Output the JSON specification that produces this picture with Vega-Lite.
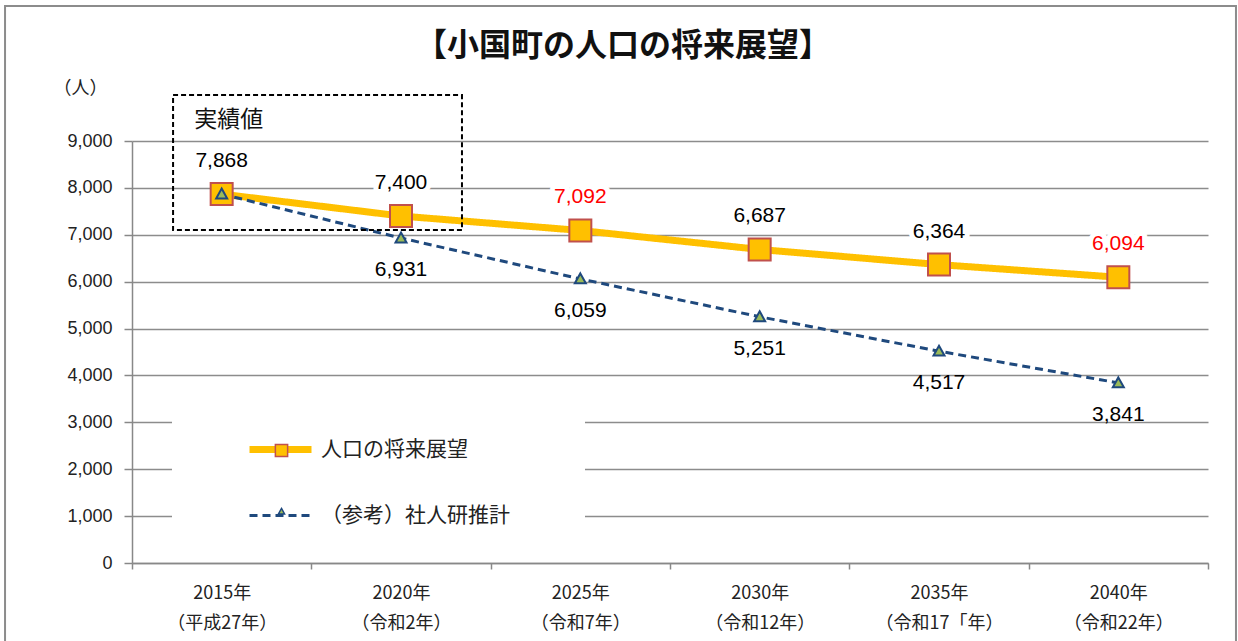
{
  "$schema": "https://vega.github.io/schema/vega-lite/v6.json",
  "width": 1076,
  "height": 422,
  "autosize": {"type": "none"},
  "padding": {"left": 132, "top": 141, "right": 30, "bottom": 78},
  "background": "white",
  "title": {
    "text": "【小国町の人口の将来展望】",
    "fontSize": 32,
    "fontWeight": "bold",
    "font": "Noto Sans CJK JP",
    "color": "#111111",
    "anchor": "middle",
    "dx": -47,
    "dy": 106,
    "offset": 16,
    "baseline": "bottom"
  },
  "config": {"view": {"stroke": null}},
  "datasets": {
    "pop": [
      {"year": "2015年\n（平成27年）", "series": "人口の将来展望", "mk": "人口の将来展望", "value": 7868},
      {"year": "2020年\n（令和2年）", "series": "人口の将来展望", "mk": "人口の将来展望", "value": 7400},
      {"year": "2025年\n（令和7年）", "series": "人口の将来展望", "mk": "人口の将来展望", "value": 7092},
      {"year": "2030年\n（令和12年）", "series": "人口の将来展望", "mk": "人口の将来展望", "value": 6687},
      {"year": "2035年\n（令和17「年）", "series": "人口の将来展望", "mk": "人口の将来展望", "value": 6364},
      {"year": "2040年\n（令和22年）", "series": "人口の将来展望", "mk": "人口の将来展望", "value": 6094},
      {"year": "2015年\n（平成27年）", "series": "（参考）社人研推計", "mk": "（参考）社人研推計", "value": 7868},
      {"year": "2020年\n（令和2年）", "series": "（参考）社人研推計", "mk": "（参考）社人研推計", "value": 6931},
      {"year": "2025年\n（令和7年）", "series": "（参考）社人研推計", "mk": "（参考）社人研推計", "value": 6059},
      {"year": "2030年\n（令和12年）", "series": "（参考）社人研推計", "mk": "（参考）社人研推計", "value": 5251},
      {"year": "2035年\n（令和17「年）", "series": "（参考）社人研推計", "mk": "（参考）社人研推計", "value": 4517},
      {"year": "2040年\n（令和22年）", "series": "（参考）社人研推計", "mk": "（参考）社人研推計", "value": 3841}
    ]
  },
  "layer": [
    {
      "data": {"values": [{}]},
      "mark": {"type": "rect", "fill": "white", "stroke": null},
      "encoding": {
        "x": {"datum": 0.223, "type": "quantitative", "scale": {"domain": [0, 6], "nice": false, "zero": false}, "axis": null},
        "x2": {"datum": 2.526},
        "y": {"datum": 3500, "type": "quantitative"},
        "y2": {"datum": 500}
      }
    },
    {
      "data": {"name": "pop"},
      "layer": [
        {
          "mark": {"type": "line", "strokeCap": "butt"},
          "encoding": {
            "x": {
              "field": "year", "type": "nominal",
              "scale": {"paddingInner": 0, "paddingOuter": 0},
              "axis": {
                "title": null, "labelAngle": 0,
                "labelExpr": "split(datum.label, '\\n')",
                "labelFont": "Noto Sans CJK JP", "labelFontSize": 18, "labelColor": "#222222",
                "labelLineHeight": 30, "labelPadding": 15,
                "tickSize": 6, "tickColor": "#888888", "tickWidth": 1.5, "tickBand": "extent",
                "domainColor": "#888888", "domainWidth": 1.5, "grid": false
              }
            },
            "y": {
              "field": "value", "type": "quantitative",
              "scale": {"domain": [0, 9000], "nice": false},
              "axis": {
                "values": [0, 1000, 2000, 3000, 4000, 5000, 6000, 7000, 8000, 9000],
                "labelExpr": "format(datum.value, ',')",
                "labelFont": "Liberation Sans", "labelFontSize": 18, "labelColor": "#222222", "labelPadding": 12,
                "tickSize": 8, "tickColor": "#888888", "tickWidth": 1.5,
                "domainColor": "#888888", "domainWidth": 1.5,
                "grid": true, "gridColor": "#8c8c8c", "gridWidth": 1.5,
                "title": "（人）", "titleAngle": 0, "titleX": -52, "titleY": -53,
                "titleAlign": "center", "titleBaseline": "middle",
                "titleFont": "Noto Sans CJK JP", "titleFontSize": 18, "titleFontWeight": "normal", "titleColor": "#222222"
              }
            },
            "color": {
              "field": "series", "type": "nominal",
              "scale": {"range": ["#FFC000", "#1F497D"]},
              "legend": {
                "orient": "none", "legendX": 40, "legendY": 271,
                "title": null, "padding": 3, "fillColor": "white",
                "symbolType": "stroke", "symbolSize": 3844, "symbolOffset": 71,
                "labelFont": "Noto Sans CJK JP", "labelFontSize": 21, "labelColor": "#222222",
                "labelLimit": 400, "labelOffset": 6, "rowPadding": 19
              }
            },
            "strokeWidth": {
              "field": "series", "type": "nominal",
              "scale": {"range": [7, 3]}
            },
            "strokeDash": {
              "field": "series", "type": "nominal",
              "scale": {"range": [[1, 0], [8, 5]]}
            }
          }
        },
        {
          "mark": {"type": "point", "filled": true, "size": 484, "strokeWidth": 2, "opacity": 1},
          "encoding": {
            "x": {"field": "year", "type": "nominal"},
            "y": {"field": "value", "type": "quantitative"},
            "shape": {
              "field": "mk", "type": "nominal",
              "scale": {"range": ["M-1,-1H1V1H-1Z", "M0,-0.5L0.5,0.4L-0.5,0.4Z"]},
              "legend": {
                "orient": "none", "legendX": 40, "legendY": 296,
                "title": null, "padding": 3,
                "symbolSize": 150, "symbolOffset": 96, "symbolStrokeWidth": 1.5,
                "labelFont": "Noto Sans CJK JP", "labelFontSize": 21, "labelOpacity": 0,
                "labelExpr": "''",
                "labelLimit": 400, "rowPadding": 39
              }
            },
            "fill": {"field": "mk", "type": "nominal", "scale": {"range": ["#FFC000", "#9BBB59"]}},
            "stroke": {"field": "mk", "type": "nominal", "scale": {"range": ["#C0504D", "#1F497D"]}}
          }
        },
        {
          "transform": [{"filter": "datum.series == '人口の将来展望'"}],
          "mark": {"type": "text", "dy": -33, "fontSize": 21, "font": "Liberation Sans", "fill": "white", "stroke": "white", "strokeWidth": 10, "strokeJoin": "round"},
          "encoding": {
            "x": {"field": "year", "type": "nominal"},
            "y": {"field": "value", "type": "quantitative"},
            "text": {"field": "value", "type": "quantitative", "format": ","}
          }
        },
        {
          "transform": [{"filter": "datum.series == '人口の将来展望'"}],
          "mark": {"type": "text", "dy": -33, "fontSize": 21, "font": "Liberation Sans"},
          "encoding": {
            "x": {"field": "year", "type": "nominal"},
            "y": {"field": "value", "type": "quantitative"},
            "text": {"field": "value", "type": "quantitative", "format": ","},
            "color": {"condition": {"test": "datum.value == 7092 || datum.value == 6094", "value": "#FF0000"}, "value": "#000000"}
          }
        },
        {
          "transform": [{"filter": "datum.series != '人口の将来展望' && datum.value != 7868"}],
          "mark": {"type": "text", "dy": 32, "fontSize": 21, "font": "Liberation Sans", "color": "#000000"},
          "encoding": {
            "x": {"field": "year", "type": "nominal"},
            "y": {"field": "value", "type": "quantitative"},
            "text": {"field": "value", "type": "quantitative", "format": ","}
          }
        }
      ]
    },
    {
      "data": {"values": [{}]},
      "layer": [
        {
          "mark": {"type": "rect", "fill": null, "stroke": "#8c8c8c", "strokeWidth": 2},
          "encoding": {
            "x": {"datum": -0.708, "type": "quantitative", "scale": {"domain": [0, 6], "nice": false, "zero": false}, "axis": null},
            "x2": {"datum": 6.156},
            "y": {"datum": 11880, "type": "quantitative"},
            "y2": {"datum": -2000}
          }
        },
        {
          "mark": {"type": "rect", "fill": null, "stroke": "#000000", "strokeWidth": 2, "strokeDash": [5, 3]},
          "encoding": {
            "x": {"datum": 0.229, "type": "quantitative"},
            "x2": {"datum": 1.84},
            "y": {"datum": 9980, "type": "quantitative"},
            "y2": {"datum": 7100}
          }
        },
        {
          "mark": {"type": "text", "text": "実績値", "font": "Noto Sans CJK JP", "fontSize": 23, "align": "center", "baseline": "middle", "color": "#111111"},
          "encoding": {
            "x": {"datum": 0.54, "type": "quantitative"},
            "y": {"datum": 9450, "type": "quantitative"}
          }
        }
      ]
    }
  ],
  "resolve": {"scale": {"x": "independent"}}
}
